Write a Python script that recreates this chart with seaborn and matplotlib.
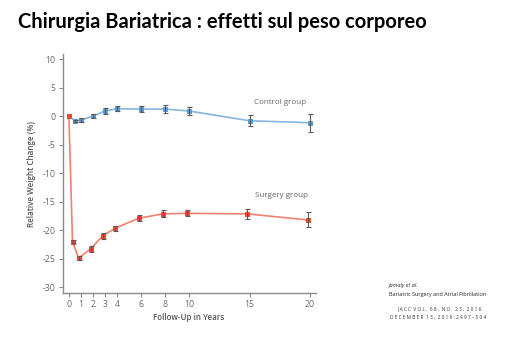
import matplotlib
matplotlib.use("Agg")
import matplotlib.pyplot as plt
import seaborn as sns
import pandas as pd

# Data
control_years = [0, 0.5, 1, 2, 3, 4, 6, 8, 10, 15, 20]
control_change = [0, -0.8, -0.7, 0.0, 0.95, 1.3, 1.25, 1.25, 0.9, -0.8, -1.15]
control_err = [0, 0.2, 0.3, 0.35, 0.55, 0.45, 0.6, 0.65, 0.7, 1.0, 1.6]

surgery_years = [0, 0.3, 0.8, 1.8, 2.8, 3.8, 5.8, 7.8, 9.8, 14.8, 19.8]
surgery_change = [0, -22.0, -24.9, -23.3, -21.0, -19.7, -17.9, -17.15, -17.05, -17.15, -18.2]
surgery_err = [0, 0.3, 0.4, 0.5, 0.5, 0.5, 0.5, 0.6, 0.5, 0.9, 1.3]

x_ticks = [0, 1, 2, 3, 4, 6, 8, 10, 15, 20]
y_ticks = [10, 5, 0, -5, -10, -15, -20, -25, -30]

sns.set_theme(style="white")
plt.rcParams['font.family'] = ['Open Sans', 'DejaVu Sans']

fig = plt.figure(figsize=(5.05, 3.38), dpi=100)
ax = fig.add_axes([0.124, 0.132, 0.501, 0.708])

df_c = pd.DataFrame({"year": control_years, "change": control_change})
df_s = pd.DataFrame({"year": surgery_years, "change": surgery_change})

blue_line = "#86b6df"
blue_mark = "#5a9bd5"
red_line = "#f2806e"
red_mark = "#ea4a35"
err_col = "#5a5a5a"

sns.lineplot(data=df_c, x="year", y="change", ax=ax, color=blue_line, lw=1.2,
             marker="s", markersize=3.5, markerfacecolor=blue_mark,
             markeredgecolor=blue_mark, zorder=2)
ax.errorbar(control_years[1:], control_change[1:], yerr=control_err[1:], fmt="none",
            ecolor=err_col, elinewidth=0.8, capsize=1.8, capthick=0.8, zorder=3)

sns.lineplot(data=df_s, x="year", y="change", ax=ax, color=red_line, lw=1.2,
             marker="s", markersize=3.5, markerfacecolor=red_mark,
             markeredgecolor=red_mark, zorder=4)
ax.errorbar(surgery_years[1:], surgery_change[1:], yerr=surgery_err[1:], fmt="none",
            ecolor=err_col, elinewidth=0.8, capsize=1.8, capthick=0.8, zorder=5)

ax.set_xlim(-0.52, 20.47)
ax.set_ylim(-31.1, 10.9)
ax.set_xticks(x_ticks)
ax.set_xticklabels([str(t) for t in x_ticks])
ax.set_yticks(y_ticks)
ax.set_yticklabels([str(t) for t in y_ticks])

for s in ["top", "right"]:
    ax.spines[s].set_visible(False)
for s in ["left", "bottom"]:
    ax.spines[s].set_color("#8a8a8a")
    ax.spines[s].set_linewidth(1.0)
ax.tick_params(axis="both", which="both", length=3, width=0.8, color="#8a8a8a",
               labelsize=6.3, labelcolor="#6a6a6a", pad=2, direction="out",
               bottom=True, left=True)

ax.set_xlabel("Follow-Up in Years", fontsize=5.8, color="#555555", fontweight="semibold", labelpad=3)
ax.set_ylabel("Relative Weight Change (%)", fontsize=5.8, color="#555555", fontweight="semibold", labelpad=5)

ax.text(17.5, 2.33, "Control group", fontsize=5.8, color="#666666", ha="center", va="center")
ax.text(17.6, -14.0, "Surgery group", fontsize=5.8, color="#666666", ha="center", va="center")

fig.text(0.036, 0.935, "Chirurgia Bariatrica : effetti sul peso corporeo",
         fontsize=14.5, fontweight="bold", family=["Lato", "DejaVu Sans"],
         color="black", ha="left", va="center")

fig.text(0.770, 0.155, "Jamaly et al.", fontsize=4.0, style="italic", color="#222222", ha="left", va="center")
fig.text(0.770, 0.128, "Bariatric Surgery and Atrial Fibrillation", fontsize=3.95, color="#222222", ha="left", va="center")
fig.text(0.786, 0.086, "J A C C  V O L .  6 8 ,  N O .  2 3 ,  2 0 1 6", fontsize=3.4, color="#333333", ha="left", va="center")
fig.text(0.772, 0.060, "D E C E M B E R  1 3 ,  2 0 1 6 : 2 4 9 7 – 5 0 4", fontsize=3.4, color="#333333", ha="left", va="center")

fig.savefig("out.png", dpi=100)
